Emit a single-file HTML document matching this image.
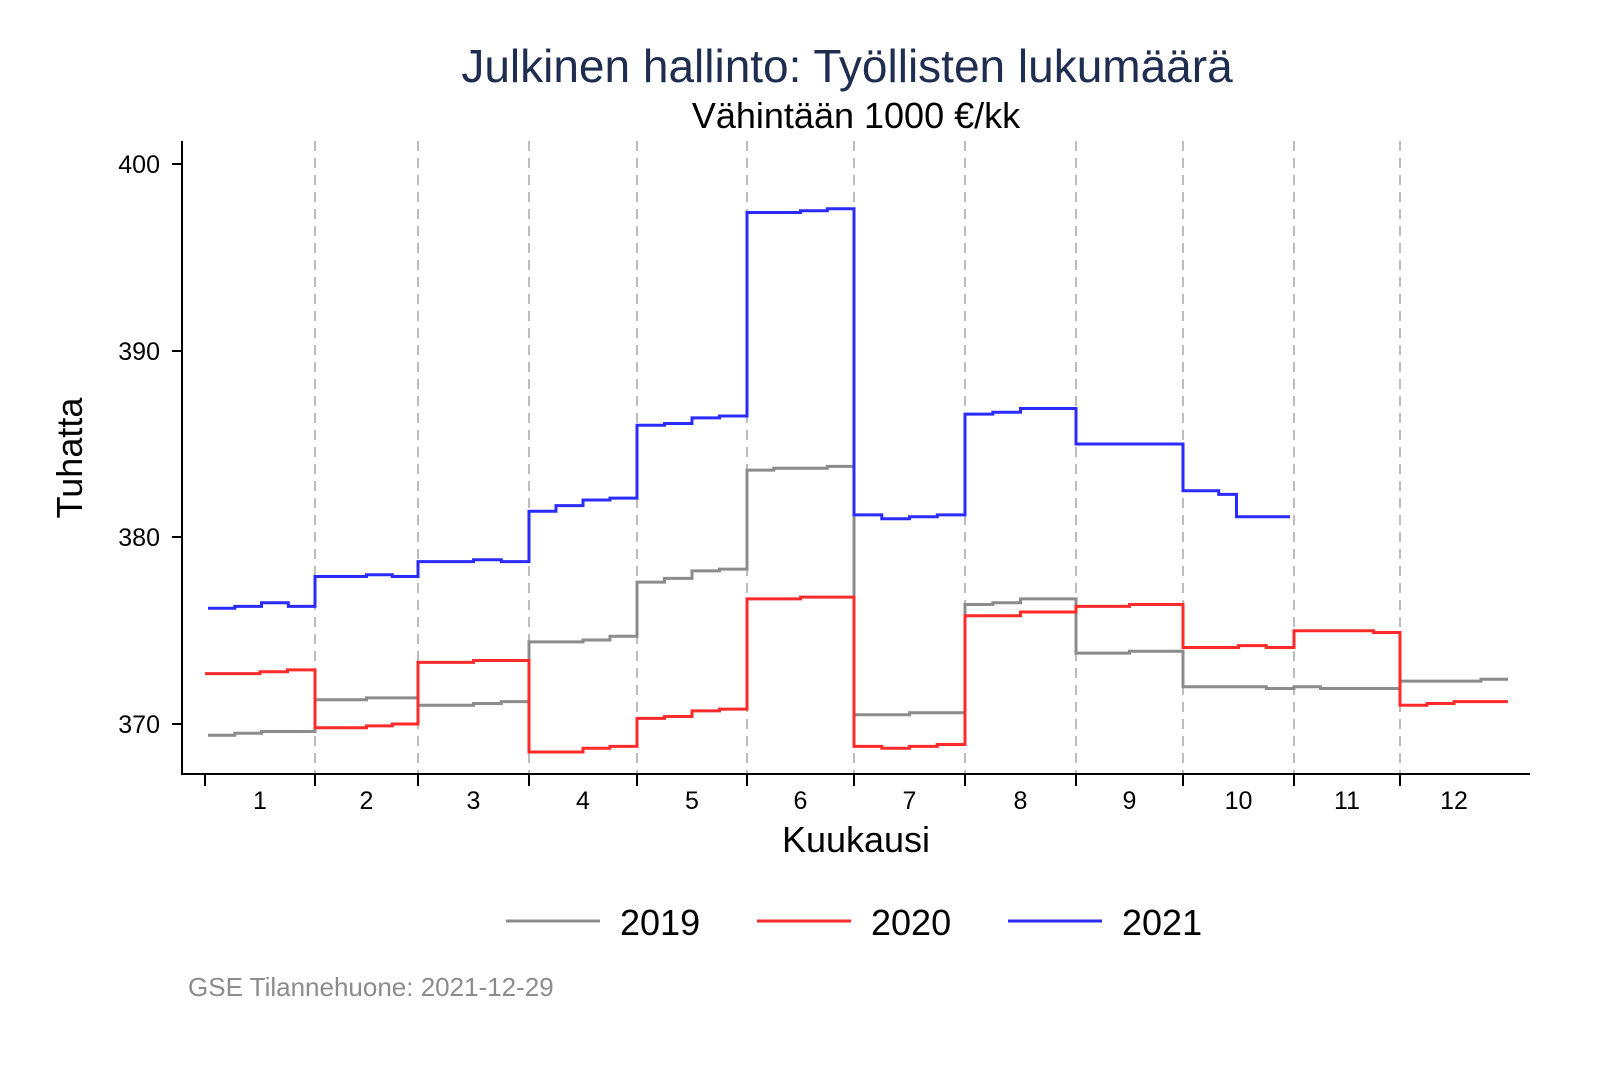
<!DOCTYPE html>
<html><head><meta charset="utf-8"><style>
body{margin:0;background:#fff;}
svg{display:block;font-family:"Liberation Sans",Arial,sans-serif;}
</style></head><body>
<svg id="s" width="1600" height="1067" viewBox="0 0 1600 1067">
<rect width="1600" height="1067" fill="#fff"/>
<text x="847" y="82" text-anchor="middle" font-size="46" fill="#1f2d50">Julkinen hallinto: Työllisten lukumäärä</text>
<text x="856" y="128" text-anchor="middle" font-size="36" fill="#000">Vähintään 1000 €/kk</text>
<g id="grid"></g>
<line x1="182" y1="141" x2="182" y2="775" stroke="#000" stroke-width="2"/>
<line x1="181" y1="774" x2="1530" y2="774" stroke="#000" stroke-width="2"/>
<g font-size="25" text-anchor="end">
<line x1="172" y1="164" x2="182" y2="164" stroke="#000" stroke-width="2"/><text x="160" y="173">400</text>
<line x1="172" y1="351" x2="182" y2="351" stroke="#000" stroke-width="2"/><text x="160" y="360">390</text>
<line x1="172" y1="537" x2="182" y2="537" stroke="#000" stroke-width="2"/><text x="160" y="546">380</text>
<line x1="172" y1="724" x2="182" y2="724" stroke="#000" stroke-width="2"/><text x="160" y="733">370</text>
</g>
<text transform="translate(82,458) rotate(-90)" text-anchor="middle" font-size="36">Tuhatta</text>
<text x="856" y="852" text-anchor="middle" font-size="36">Kuukausi</text>
<g id="xl" font-size="25" text-anchor="middle"></g>
<g id="series" fill="none" stroke-width="3"></g>
<g font-size="36">
<line x1="506" y1="921" x2="600" y2="921" stroke="#8c8c8c" stroke-width="3"/><text x="620" y="935">2019</text>
<line x1="757" y1="921" x2="851" y2="921" stroke="#ff2a2a" stroke-width="3"/><text x="871" y="935">2020</text>
<line x1="1008" y1="921" x2="1102" y2="921" stroke="#2b2bff" stroke-width="3"/><text x="1122" y="935">2021</text>
</g>
<text x="188" y="996" font-size="26" fill="#8c8c8c">GSE Tilannehuone: 2021-12-29</text>
</svg>
<script>
const B=[205,315,418,529,637,747,854,965,1076,1183,1294,1400,1508];
const Y=v=>724-(v-370)*18.667;
const ns="http://www.w3.org/2000/svg";
let g=document.getElementById('grid'),xl=document.getElementById('xl'),se=document.getElementById('series');
function el(p,t,a,txt){let e=document.createElementNS(ns,t);for(let k in a)e.setAttribute(k,a[k]);if(txt)e.textContent=txt;p.appendChild(e);return e;}
B.slice(0,12).forEach((x,i)=>{
 if(i>0) el(g,'line',{x1:x,y1:141,x2:x,y2:774,stroke:'#bdbdbd','stroke-width':2,'stroke-dasharray':'10,7'});
 el(g,'line',{x1:x,y1:774,x2:x,y2:786,stroke:'#000','stroke-width':2});
 el(xl,'text',{x:(x+B[i+1])/2,y:809},String(i+1));
});
function path(d,col,x0,xe){
 let s='';
 d.forEach((m,i)=>{
  let a=i==0?x0:B[i],b=(i==d.length-1&&xe)?xe:B[i+1];
  for(let k=0;k<m.length;k++){
   let xa=a+(b-a)*k/m.length, xb=a+(b-a)*(k+1)/m.length;
   s+=(s?'L':'M')+xa.toFixed(1)+','+Y(m[k]).toFixed(1)+'L'+xb.toFixed(1)+','+Y(m[k]).toFixed(1);
  }
 });
 el(se,'path',{d:s,stroke:col});
}
path([[369.4,369.5,369.6,369.6],[371.3,371.3,371.4,371.4],[371.0,371.0,371.1,371.2],[374.4,374.4,374.5,374.7],[377.6,377.8,378.2,378.3],[383.6,383.7,383.7,383.8],[370.5,370.5,370.6,370.6],[376.4,376.5,376.7,376.7],[373.8,373.8,373.9,373.9],[372.0,372.0,372.0,371.9],[372.0,371.9,371.9,371.9],[372.3,372.3,372.3,372.4]],'#8c8c8c',208,1508);
path([[372.7,372.7,372.8,372.9],[369.8,369.8,369.9,370.0],[373.3,373.3,373.4,373.4],[368.5,368.5,368.7,368.8],[370.3,370.4,370.7,370.8],[376.7,376.7,376.8,376.8],[368.8,368.7,368.8,368.9],[375.8,375.8,376.0,376.0],[376.3,376.3,376.4,376.4],[374.1,374.1,374.2,374.1],[375.0,375.0,375.0,374.9],[371.0,371.1,371.2,371.2]],'#ff2a2a',205,1508);
path([[376.2,376.3,376.5,376.3],[377.9,377.9,378.0,377.9],[378.7,378.7,378.8,378.7],[381.4,381.7,382.0,382.1],[386.0,386.1,386.4,386.5],[397.4,397.4,397.5,397.6],[381.2,381.0,381.1,381.2],[386.6,386.7,386.9,386.9],[385.0,385.0,385.0,385.0],[382.5,382.5,382.3,381.1,381.1,381.1]],'#2b2bff',208,1290);
</script>
</body></html>
